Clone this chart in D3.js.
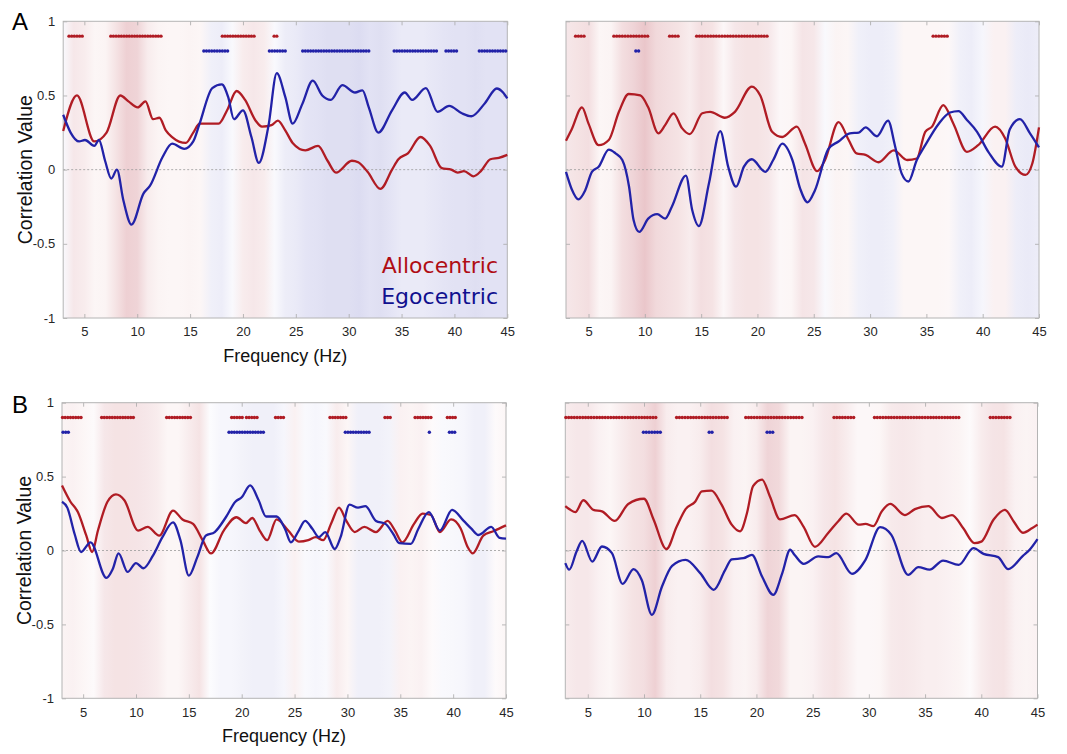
<!DOCTYPE html>
<html><head><meta charset="utf-8">
<script src="https://cdn.jsdelivr.net/npm/d3@7"></script>
<style>body{margin:0;background:#fff}svg{display:block}</style>
</head><body>
<script>
// ---------------- DATA ----------------
const xTicks = [5,10,15,20,25,30,35,40,45];
const yTicks = [-1,-0.5,0,0.5,1];
const legendLabels = ["Allocentric","Egocentric"];

// Panel A left
const alloA1 = [[3,0.26],[4.3,0.50],[5.94,0.19],[7.1,0.25],[8.4,0.50],[9.17,0.46],[10.05,0.42],[10.78,0.46],[11.5,0.34],[12.1,0.35],[12.7,0.265],[13.3,0.22],[14.6,0.18],[15.3,0.25],[15.9,0.31],[17.7,0.31],[18.5,0.40],[19.4,0.53],[20.2,0.47],[21.2,0.33],[21.8,0.29],[22.7,0.30],[23.3,0.33],[24.0,0.265],[24.7,0.18],[25.9,0.13],[27.1,0.16],[28.0,0.06],[28.8,-0.02],[30.3,0.06],[30.9,0.05],[31.8,-0.016],[33.0,-0.13],[34.1,0.0],[34.7,0.07],[35.6,0.11],[36.8,0.22],[37.7,0.16],[38.8,0.01],[39.7,0.0],[40.3,-0.02],[40.9,-0.01],[41.8,-0.045],[42.5,-0.01],[43.4,0.07],[44.2,0.08],[45,0.10]];
const egoA1 = [[3,0.37],[3.7,0.25],[4.5,0.19],[5.06,0.20],[5.94,0.16],[6.38,0.20],[6.96,0.06],[7.55,-0.06],[8.08,0.0],[8.7,-0.21],[9.46,-0.37],[10.6,-0.16],[11.2,-0.11],[12.4,0.085],[13.3,0.175],[14.45,0.14],[15.3,0.19],[15.9,0.31],[17.1,0.55],[18.0,0.575],[18.6,0.49],[19.15,0.34],[20.0,0.40],[20.8,0.22],[21.5,0.045],[22.4,0.29],[23.2,0.65],[24.0,0.49],[24.7,0.31],[25.6,0.44],[26.6,0.60],[27.5,0.50],[28.3,0.47],[29.4,0.57],[30.6,0.52],[31.3,0.535],[31.9,0.42],[32.8,0.25],[34.1,0.40],[35.3,0.52],[36.0,0.47],[37.3,0.55],[38.4,0.39],[39.5,0.43],[40.7,0.38],[41.6,0.36],[42.9,0.45],[44.0,0.547],[44.6,0.52],[45,0.48]];
const sigAlloA1 = [[3.55,5.0],[7.5,12.3],[18.05,21.15],[22.95,23.35]];
const sigEgoA1 = [[16.3,18.7],[22.5,24.1],[25.65,31.95],[34.3,38.3],[39.2,40.3],[42.35,45]];
const bgA1 = [-0.1,0.25,0.2,0.1,0.12,0.3,0.5,0.45,0.2,0.12,0.1,0.1,0.12,0.1,-0.25,-0.3,-0.1,0.2,0.25,0.2,-0.1,-0.3,-0.35,-0.45,-0.5,-0.55,-0.55,-0.55,-0.6,-0.5,-0.55,-0.45,-0.35,-0.35,-0.35,-0.4,-0.45,-0.5,-0.5,-0.55,-0.5,-0.5,-0.5];

// Panel A right
const alloA2 = [[3,0.195],[3.5,0.27],[4.42,0.42],[5.0,0.31],[5.9,0.165],[6.8,0.20],[7.7,0.39],[8.56,0.51],[9.6,0.50],[10.3,0.42],[11.2,0.245],[11.8,0.30],[12.55,0.38],[13.3,0.28],[14.0,0.24],[15.1,0.38],[15.8,0.39],[17.1,0.35],[18.0,0.39],[19.5,0.56],[20.25,0.50],[21.3,0.255],[22.2,0.22],[23.5,0.29],[24.2,0.18],[25.3,-0.01],[26.0,0.065],[27.2,0.32],[28.1,0.20],[28.8,0.11],[29.6,0.10],[30.75,0.05],[32.1,0.13],[33.3,0.065],[34.15,0.075],[34.9,0.255],[35.5,0.29],[36.5,0.435],[37.4,0.31],[38.6,0.12],[39.6,0.165],[41.1,0.29],[42.0,0.21],[42.9,0.02],[43.8,-0.035],[44.4,0.04],[45,0.285]];
const egoA2 = [[3,-0.015],[3.5,-0.13],[4.1,-0.20],[4.7,-0.14],[5.3,-0.015],[5.9,0.02],[6.8,0.135],[7.4,0.11],[8.0,0.065],[8.6,-0.115],[9.0,-0.34],[9.5,-0.42],[10.3,-0.33],[11.1,-0.30],[11.8,-0.33],[12.4,-0.25],[13.65,-0.04],[14.2,-0.27],[14.8,-0.38],[15.7,-0.09],[16.7,0.26],[17.4,0.02],[18.1,-0.115],[18.8,0.02],[19.5,0.07],[20.7,-0.015],[21.4,0.065],[22.2,0.175],[23.1,0.065],[23.8,-0.13],[24.45,-0.22],[25.1,-0.14],[26.3,0.14],[27.2,0.19],[28.2,0.245],[29.0,0.25],[29.6,0.285],[30.6,0.225],[31.6,0.33],[32.2,0.165],[32.8,-0.025],[33.4,-0.08],[34.15,0.065],[34.9,0.165],[36.1,0.31],[37.1,0.385],[37.85,0.395],[38.6,0.335],[39.5,0.255],[40.5,0.12],[41.7,0.02],[42.4,0.27],[43.3,0.34],[44.2,0.245],[45,0.15]];
const sigAlloA2 = [[3.85,4.75],[7.25,10.4],[12.2,13.05],[14.6,20.9],[35.6,37.05]];
const sigEgoA2 = [[9.2,9.6]];
const bgA2 = [0.25,0.3,0.35,0.1,0.12,0.35,0.45,0.6,0.4,0.35,0.3,0.2,0.35,0.3,0.08,0.25,0.3,0.3,0.25,0.08,0.1,0.28,0.25,-0.1,0.12,0.1,-0.25,-0.3,-0.3,-0.25,0.1,0.1,0.1,0.1,0.08,-0.25,-0.3,-0.15,0.15,0.15,-0.3,-0.35,-0.3];

// Panel B left
const alloB1 = [[3,0.44],[3.8,0.33],[4.5,0.26],[5.3,0.10],[5.85,-0.01],[6.4,0.135],[7.3,0.33],[8.1,0.38],[8.9,0.34],[10.2,0.135],[11.1,0.16],[12.2,0.10],[13.5,0.27],[14.4,0.21],[15.4,0.18],[16.3,0.07],[17.1,-0.02],[18.3,0.135],[19.5,0.225],[20.4,0.185],[21.0,0.22],[21.7,0.135],[22.4,0.07],[23.3,0.21],[24.4,0.135],[25.4,0.06],[26.3,0.07],[27.0,0.09],[27.7,0.07],[28.5,0.19],[29.2,0.29],[29.9,0.20],[30.7,0.125],[31.6,0.16],[32.7,0.125],[33.8,0.20],[34.5,0.135],[35.2,0.055],[36.3,0.18],[37.1,0.25],[37.9,0.24],[38.75,0.125],[39.8,0.21],[40.7,0.15],[41.4,0.02],[41.85,-0.02],[42.85,0.10],[43.8,0.13],[45,0.17]];
const egoB1 = [[3,0.33],[3.5,0.29],[4.2,0.11],[4.8,-0.01],[5.7,0.055],[7.2,-0.185],[7.8,-0.125],[8.35,-0.02],[9.2,-0.145],[10.0,-0.085],[10.7,-0.12],[11.6,-0.035],[12.5,0.09],[13.5,0.19],[14.2,0.07],[15.0,-0.17],[15.8,-0.045],[16.6,0.10],[17.45,0.125],[18.5,0.225],[19.4,0.33],[20.0,0.36],[20.8,0.44],[21.6,0.34],[22.3,0.23],[23.3,0.23],[24.1,0.145],[24.65,0.055],[25.4,0.135],[26.0,0.20],[26.7,0.145],[27.3,0.09],[27.9,0.125],[28.8,0.01],[29.35,0.09],[30.2,0.31],[31.0,0.29],[31.7,0.30],[32.7,0.20],[33.6,0.18],[34.35,0.11],[34.9,0.05],[36.0,0.045],[36.7,0.145],[37.7,0.26],[38.75,0.135],[39.9,0.275],[41.0,0.20],[41.7,0.15],[42.4,0.105],[43.6,0.16],[44.4,0.085],[45,0.08]];
const sigAlloB1 = [[3.05,4.9],[6.75,9.85],[12.9,15.25],[19.05,20.15],[20.45,21.65],[23.2,24.1],[28.35,30.0],[33.55,34.1],[36.4,38.05],[39.45,40.35]];
const sigEgoB1 = [[3.1,3.75],[18.8,22.2],[29.8,32.2],[37.75,37.75],[39.65,40.35]];
const bgB1 = [0.12,0.15,0.1,0.05,0.25,0.3,0.3,0.28,0.25,0.2,0.1,0.1,0.2,0.3,-0.05,-0.15,-0.15,-0.2,-0.25,-0.25,-0.25,-0.15,0.15,-0.1,-0.15,-0.1,0.2,0.1,-0.25,-0.25,-0.25,-0.2,0.15,0.12,0.15,0.05,-0.1,-0.12,-0.15,-0.25,-0.25,0.05,0.1];

// Panel B right
const alloB2 = [[3,0.30],[3.45,0.275],[3.9,0.26],[4.6,0.34],[5.5,0.275],[6.26,0.265],[7.4,0.20],[8.6,0.315],[10.0,0.35],[10.85,0.21],[12.0,0.01],[12.9,0.16],[13.7,0.28],[14.55,0.33],[15.15,0.40],[16.0,0.405],[16.9,0.31],[17.8,0.175],[18.55,0.13],[19.15,0.25],[19.7,0.435],[20.5,0.48],[21.2,0.365],[22.1,0.21],[23.4,0.24],[24.2,0.16],[25.2,0.025],[26.4,0.12],[27.3,0.20],[28.0,0.25],[29.1,0.175],[29.7,0.18],[30.4,0.165],[31.15,0.265],[31.9,0.315],[33.2,0.24],[34.1,0.28],[35.3,0.30],[36.5,0.22],[37.4,0.24],[38.4,0.15],[39.4,0.05],[40.0,0.06],[41.1,0.21],[42.1,0.275],[42.9,0.195],[43.7,0.12],[44.5,0.15],[45,0.175]];
const egoB2 = [[3,-0.085],[3.35,-0.13],[4.0,-0.007],[4.5,0.065],[5.4,-0.075],[6.26,0.027],[7.15,-0.018],[8.1,-0.226],[9.07,-0.126],[9.8,-0.2],[10.7,-0.435],[11.6,-0.244],[12.5,-0.104],[13.7,-0.063],[15.0,-0.153],[16.2,-0.266],[17.2,-0.135],[17.8,-0.06],[18.85,-0.052],[19.6,-0.03],[20.5,-0.176],[21.5,-0.30],[22.3,-0.153],[23.0,0.005],[23.4,-0.03],[24.2,-0.09],[25.5,-0.04],[26.4,-0.045],[27.1,-0.018],[28.5,-0.158],[29.7,-0.063],[31.0,0.158],[32.0,0.106],[33.5,-0.165],[34.4,-0.113],[35.4,-0.13],[36.6,-0.068],[38.0,-0.097],[39.3,0.016],[40.2,-0.023],[41.5,-0.045],[42.4,-0.126],[43.7,-0.036],[44.3,0.005],[45,0.077]];
const sigAlloB2 = [[3.05,11.05],[12.9,17.5],[19.05,24.1],[26.9,28.7],[30.5,38.0],[40.8,42.7]];
const sigEgoB2 = [[9.95,11.6],[15.8,16.2],[20.95,21.6]];
const bgB2 = [0.2,0.25,0.25,0.15,0.1,0.2,0.3,0.35,0.5,0.2,0.15,0.15,0.2,0.35,0.3,0.15,0.12,0.2,0.45,0.4,0.12,0.12,0.15,0.25,0.3,0.2,0.08,0.08,0.1,0.22,0.25,0.22,0.18,0.18,0.15,0.12,0.05,0.2,0.28,0.3,0.15,0.12,0.15];

const bgFreqs = d3.range(3, 46, 1);

// ---------------- DRAW ----------------
const W = 1067, H = 754;
const RED = "#b01c24", BLUE = "#2222a8";
const svg = d3.select("body").append("svg").attr("width", W).attr("height", H)
  .style("font-family", "'Liberation Sans', Arial, sans-serif");
const defs = svg.append("defs");

const panels = [
  {id:"A1", x0:63.2, x1:507.3, y0:21.3, y1:318, allo:alloA1, ego:egoA1, sA:sigAlloA1, sE:sigEgoA1, bg:bgA1, left:true},
  {id:"A2", x0:566, x1:1039, y0:21.3, y1:318, allo:alloA2, ego:egoA2, sA:sigAlloA2, sE:sigEgoA2, bg:bgA2, left:false},
  {id:"B1", x0:62, x1:506, y0:402.7, y1:698.3, allo:alloB1, ego:egoB1, sA:sigAlloB1, sE:sigEgoB1, bg:bgB1, left:true},
  {id:"B2", x0:565.3, x1:1037.5, y0:402.7, y1:698.3, allo:alloB2, ego:egoB2, sA:sigAlloB2, sE:sigEgoB2, bg:bgB2, left:false}
];

const redC = d3.interpolateRgb("#ffffff", "#dca0a6");
const blueC = d3.interpolateRgb("#ffffff", "#c4c4e8");
const bgColor = v => v >= 0 ? redC(v) : blueC(-v);
const fmt = d => String(d);

panels.forEach(p => {
  const x = d3.scaleLinear().domain([3,45]).range([p.x0, p.x1]);
  const y = d3.scaleLinear().domain([-1,1]).range([p.y1, p.y0]);
  const g = svg.append("g");

  // background gradient
  const grad = defs.append("linearGradient").attr("id","bg"+p.id)
    .attr("gradientUnits","userSpaceOnUse")
    .attr("x1", x(3)).attr("x2", x(45)).attr("y1",0).attr("y2",0);
  p.bg.forEach((v,i) => {
    grad.append("stop").attr("offset", ((bgFreqs[i]-3)/42*100)+"%").attr("stop-color", bgColor(v));
  });
  g.append("rect").attr("x", x(3)).attr("y", y(1)).attr("width", x(45)-x(3)).attr("height", y(-1)-y(1))
    .attr("fill", `url(#bg${p.id})`);

  // zero line
  g.append("line").attr("x1", x(3)).attr("x2", x(45)).attr("y1", y(0)).attr("y2", y(0))
    .attr("stroke","#9a9a9a").attr("stroke-width",0.8).attr("stroke-dasharray","2,2");

  // axes (ticks inward, box)
  const axB = d3.axisBottom(x).tickValues(xTicks).tickSizeInner(-4).tickSizeOuter(0).tickPadding(9).tickFormat(fmt);
  const axT = d3.axisTop(x).tickValues(xTicks).tickSizeInner(-4).tickSizeOuter(0).tickFormat("");
  const axL = d3.axisLeft(y).tickValues(yTicks).tickSizeInner(-4).tickSizeOuter(0).tickPadding(8).tickFormat(p.left ? fmt : "");
  const axR = d3.axisRight(y).tickValues(yTicks).tickSizeInner(-4).tickSizeOuter(0).tickFormat("");
  const styleAx = sel => {
    sel.select(".domain").remove();
    sel.selectAll(".tick line").attr("stroke","#a8a8a8").attr("stroke-width",0.8);
    sel.selectAll(".tick text").attr("fill","#262626").style("font-size","13px");
  };
  g.append("g").attr("transform",`translate(0,${y(-1)})`).call(axB).call(styleAx);
  g.append("g").attr("transform",`translate(0,${y(1)})`).call(axT).call(styleAx);
  g.append("g").attr("transform",`translate(${x(3)},0)`).call(axL).call(styleAx);
  g.append("g").attr("transform",`translate(${x(45)},0)`).call(axR).call(styleAx);
  g.append("rect").attr("x", x(3)).attr("y", y(1)).attr("width", x(45)-x(3)).attr("height", y(-1)-y(1))
    .attr("fill","none").attr("stroke","#b4b4b4").attr("stroke-width",1);

  // significance dots
  const dots = (ranges, level, color) => {
    ranges.forEach(([a,b]) => {
      const fs = [];
      for (let f = a; f <= b + 1e-6; f += 0.25) fs.push(f);
      g.selectAll(null).data(fs).enter().append("circle")
        .attr("cx", d => x(d)).attr("cy", y(level)).attr("r", 1.7).attr("fill", color);
    });
  };
  dots(p.sA, 0.9, RED);
  dots(p.sE, 0.8, BLUE);

  // lines
  const line = d3.line().x(d => x(d[0])).y(d => y(d[1])).curve(d3.curveMonotoneX);
  g.append("path").datum(p.allo).attr("d", line).attr("fill","none").attr("stroke",RED)
    .attr("stroke-width",2.3).attr("stroke-linejoin","round");
  g.append("path").datum(p.ego).attr("d", line).attr("fill","none").attr("stroke",BLUE)
    .attr("stroke-width",2.3).attr("stroke-linejoin","round");

  // axis labels
  if (p.left) {
    g.append("text").attr("transform",`translate(${x(3)-31},${(y(1)+y(-1))/2}) rotate(-90)`)
      .attr("text-anchor","middle").style("font-size","19.5px").attr("fill","#111").text("Correlation Value");
    g.append("text").attr("x", (x(3)+x(45))/2).attr("y", y(-1)+44)
      .attr("text-anchor","middle").style("font-size","18px").attr("fill","#111").text("Frequency (Hz)");
  }
});

// panel letters
svg.append("text").attr("x",12).attr("y",29.5).style("font-size","24px").attr("fill","#000").text("A");
svg.append("text").attr("x",12).attr("y",413).style("font-size","24px").attr("fill","#000").text("B");

// legend in panel A left
const leg = svg.append("g").style("font-family","'DejaVu Sans', Verdana, sans-serif").style("font-size","22px").attr("text-anchor","end");
leg.append("text").attr("x",498).attr("y",273).attr("fill","#b00d14").text(legendLabels[0]);
leg.append("text").attr("x",498).attr("y",304).attr("fill","#10108f").text(legendLabels[1]);
</script>
</body></html>
